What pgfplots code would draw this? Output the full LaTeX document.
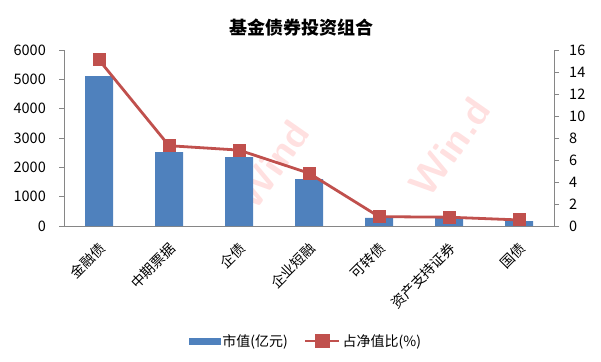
\documentclass[border=0pt]{standalone}
\usepackage{fontspec}
\setmainfont{Noto Sans CJK SC}
\usepackage{pgfplots}
\pgfplotsset{compat=1.18}
\definecolor{barblue}{HTML}{4F81BD}
\definecolor{linered}{HTML}{C0504D}
\definecolor{axgray}{HTML}{868686}
\begin{document}
\begin{tikzpicture}
\path[use as bounding box] (0,0) rectangle (601pt,361pt);
\node[text=red!12, font=\sffamily\bfseries\fontsize{40}{44}\selectfont, rotate=55] at (272pt,196pt) {Wind};
\node[text=red!12, font=\sffamily\bfseries\fontsize{40}{44}\selectfont, rotate=55] at (450pt,214pt) {Win.d};
\node[font=\bfseries\fontsize{18}{20}\selectfont] at (301pt,333pt) {基金债券投资组合};
\begin{axis}[
  at={(64pt,135pt)}, anchor=south west, scale only axis,
  width=490pt, height=176pt,
  xmin=-0.5, xmax=6.5, ymin=0, ymax=6000,
  ytick={0,1000,2000,3000,4000,5000,6000},
  axis y line*=left, axis x line*=bottom,
  axis line style={draw=axgray, line width=0.8pt, -},
  y tick style={draw=axgray, line width=0.8pt},
  tick align=outside, major tick length=5pt,
  xtick={0,1,2,3,4,5,6},
  xticklabels={金融债,中期票据,企债,企业短融,可转债,资产支持证券,国债},
  x tick style={draw=none},
  yticklabel style={font=\fontsize{14.5}{16}\selectfont},
  xticklabel style={font=\fontsize{14}{16}\selectfont},
  /pgf/number format/assume math mode=true,
  /pgf/number format/1000 sep={},
  xticklabel style={inner sep=0pt, xshift=4pt, yshift=-15pt, rotate=45, anchor=east},
  yticklabel style={inner sep=0pt, xshift=-13pt, anchor=east},
  ybar, bar width=28pt,
]
\addplot[fill=barblue, draw=none] coordinates {(0,5110) (1,2520) (2,2350) (3,1600) (4,275) (5,270) (6,170)};
\end{axis}
\begin{axis}[
  at={(64pt,135pt)}, anchor=south west, scale only axis,
  width=490pt, height=176pt,
  xmin=-0.5, xmax=6.5, ymin=0, ymax=16,
  ytick={0,2,4,6,8,10,12,14,16},
  axis y line*=right, axis x line=none,
  axis line style={draw=axgray, line width=0.8pt, -},
  y tick style={draw=axgray, line width=0.8pt},
  tick align=outside, major tick length=5pt,
  tick label style={font=\fontsize{14.5}{16}\selectfont},
  /pgf/number format/assume math mode=true,
  yticklabel style={inner sep=0pt, xshift=10pt, anchor=west},
  legend style={at={(0.494,-0.653)}, anchor=center, draw=none, fill=none,
    legend columns=2, font=\fontsize{14}{16}\selectfont,
    /tikz/every even column/.append style={column sep=14pt}},
]
\addlegendimage{legend image code/.code={\fill[barblue] (0pt,-3pt) rectangle (31pt,3pt);}}
\addlegendentry{市值(亿元)}
\addplot[color=linered, line width=2.8pt, mark=square*, mark size=6pt,
  mark options={fill=linered, draw=linered, line width=0pt},
  legend image code/.code={\draw[linered, line width=2.8pt] (0pt,0pt) -- (34pt,0pt); \fill[linered] (11pt,-6pt) rectangle (23pt,6pt);}]
  coordinates {(0,15.1) (1,7.3) (2,6.9) (3,4.8) (4,0.85) (5,0.8) (6,0.55)};
\addlegendentry{占净值比(\%)}
\end{axis}
\end{tikzpicture}
\end{document}
